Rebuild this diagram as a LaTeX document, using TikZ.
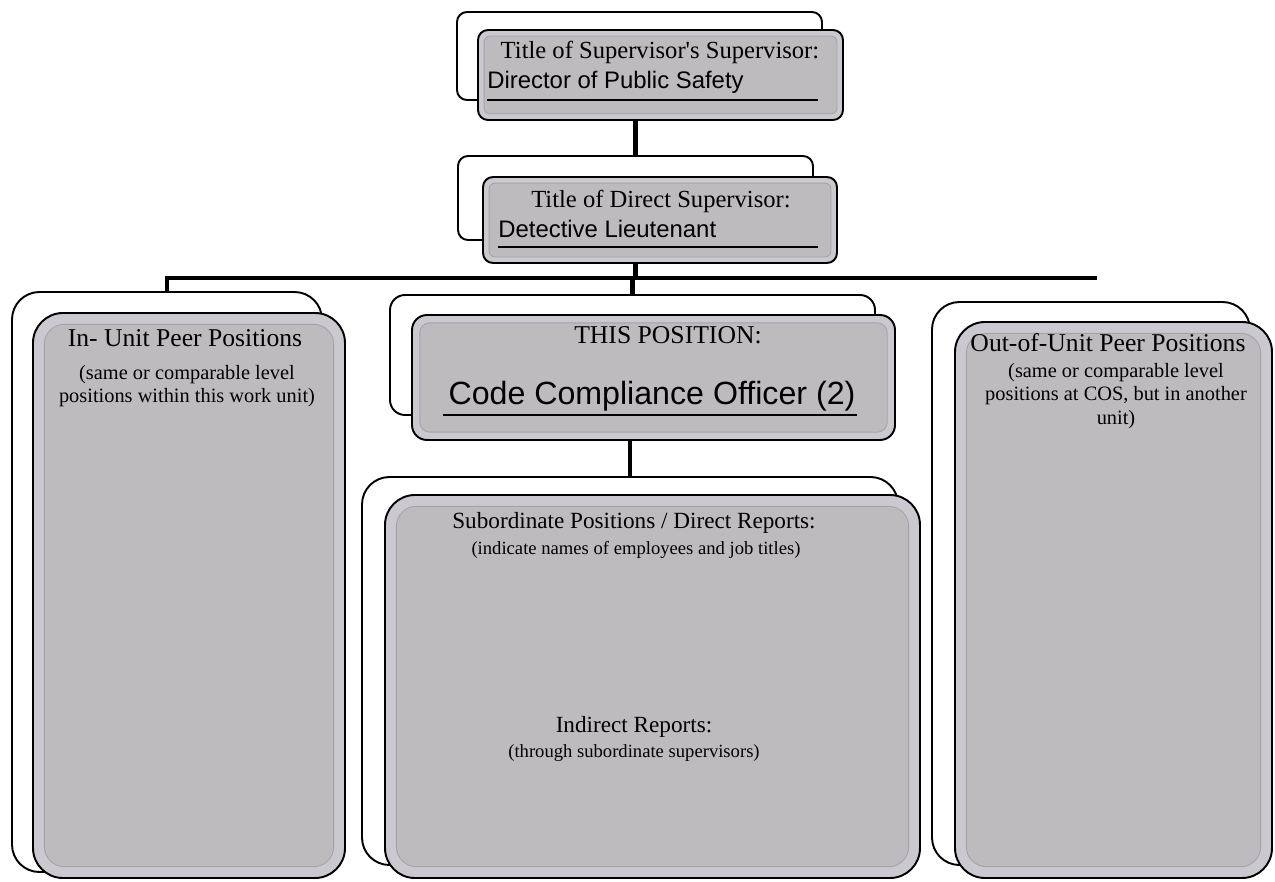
\documentclass[tikz,border=0pt]{standalone}
\usepackage{fontspec}
\setmainfont{Liberation Serif}[Ligatures=TeXOff]
\newfontfamily\arialfont{Liberation Sans}
\usetikzlibrary{fit,positioning}

\definecolor{boxgray}{RGB}{189,187,190}
\definecolor{ringgray}{RGB}{203,201,207}
\definecolor{bevelgray}{RGB}{165,163,167}

\tikzset{
  backframe/.style={draw, line width=1.1pt, fill=white, rounded corners=#1, inner sep=0pt},
  backframe/.default=0.55cm,
  frontbox/.style={draw, line width=1.1pt, fill=ringgray, rounded corners=#1, inner sep=0pt},
  frontbox/.default=0.6cm,
  bevel/.style={draw=bevelgray, line width=0.5pt, fill=boxgray, rounded corners=#1},
  bevel/.default=0.4cm,
  link/.style={line width=2.3pt, line cap=rect},
  fieldline/.style={line width=0.9pt},
  headtext/.style={font=\fontsize{14}{16}\selectfont, inner sep=0pt},
  peertext/.style={font=\fontsize{14.6}{16}\selectfont, inner sep=0pt},
  subtext/.style={font=\fontsize{13.2}{15}\selectfont, inner sep=0pt},
  nametext/.style={font=\arialfont\fontsize{13.6}{15}\selectfont, inner sep=0pt, anchor=west},
  smalltext/.style={font=\fontsize{11.6}{13.4}\selectfont, align=center, inner sep=0pt},
  notetext/.style={font=\fontsize{10.6}{12}\selectfont, align=center, inner sep=0pt}
}

\begin{document}
\begin{tikzpicture}[x=0.02cm, y=-0.02cm]
\useasboundingbox (0,0) rectangle (1275,882);

% supervisor's supervisor
\node[backframe=0.2cm, fit={(457,12) (822,100)}] (dssback) {};
\node[frontbox=0.2cm, fit={(478,30) (843,120)}] (dss) {};
\draw[bevel=0.12cm] ([xshift=4pt,yshift=4pt]dss.south west) rectangle ([xshift=-4pt,yshift=-4pt]dss.north east);
\node[headtext] (dsstitle) at (660,52) {Title of Supervisor's Supervisor:};
\node[nametext] (dssname) at (487,82) {Director of Public Safety};
\draw[fieldline] (487,100) -- (818,100);

% direct supervisor
\node[backframe=0.2cm, fit={(458,156) (813,240)}] (dsback) {};
\node[frontbox=0.2cm, fit={(483,177) (837,263)}] (ds) {};
\draw[bevel=0.12cm] ([xshift=4pt,yshift=4pt]ds.south west) rectangle ([xshift=-4pt,yshift=-4pt]ds.north east);
\node[headtext] (dstitle) at (661,201) {Title of Direct Supervisor:};
\node[nametext] (dsname) at (498,229) {Detective Lieutenant};
\draw[fieldline] (498,247) -- (818,247);

% in-unit peers
\node[backframe, fit={(12,292) (322,872)}] (inback) {};
\node[frontbox, fit={(33,313) (345,878)}] (inpeer) {};
\draw[bevel] ([xshift=7pt,yshift=7pt]inpeer.south west) rectangle ([xshift=-7pt,yshift=-7pt]inpeer.north east);
\node[peertext] (intitle) at (185,338) {In- Unit Peer Positions};
\node[smalltext] (innote) at (187,386) {(same or comparable level\\positions within this work unit)};

% this position
\node[backframe=0.3cm, fit={(390,295) (875,415)}] (thisback) {};
\node[frontbox=0.3cm, fit={(412,315) (895,440)}] (this) {};
\draw[bevel=0.2cm] ([xshift=5pt,yshift=5pt]this.south west) rectangle ([xshift=-5pt,yshift=-5pt]this.north east);
\node[peertext] (thistitle) at (668,335) {THIS POSITION:};
\node[font=\arialfont\fontsize{18.3}{20}\selectfont, inner sep=0pt] (thisname) at (652,396) {Code Compliance Officer (2)};
\draw[fieldline] (443,415) -- (857,415);

% subordinates
\node[backframe, fit={(362,477) (898,865)}] (subback) {};
\node[frontbox, fit={(385,495) (920,878)}] (sub) {};
\draw[bevel] ([xshift=7pt,yshift=7pt]sub.south west) rectangle ([xshift=-7pt,yshift=-7pt]sub.north east);
\node[subtext] (subtitle) at (634,523) {Subordinate Positions / Direct Reports:};
\node[notetext] (subnote) at (636,550) {(indicate names of employees and job titles)};
\node[subtext] (indtitle) at (634,727) {Indirect Reports:};
\node[notetext] (indnote) at (634,753) {(through subordinate supervisors)};

% out-of-unit peers
\node[backframe, fit={(932,302) (1250,865)}] (outback) {};
\node[frontbox, fit={(955,322) (1272,878)}] (outpeer) {};
\draw[bevel] ([xshift=7pt,yshift=7pt]outpeer.south west) rectangle ([xshift=-7pt,yshift=-7pt]outpeer.north east);
\node[peertext] (outtitle) at (1108,343) {Out-of-Unit Peer Positions};
\node[smalltext] (outnote) at (1116,396) {(same or comparable level\\positions at COS, but in another\\unit)};

% reporting lines
\coordinate (busL) at (168,278);
\coordinate (busR) at (1095,278);
\draw[link] (dss.south -| dsback.north) -- (dsback.north);
\draw[link] (ds.south -| dsback.north) -- (dsback.north |- busL);
\draw[link] (busL) -- (busR);
\draw[link] (inback.north |- busL) -- (inback.north);
\draw[link] (thisback.north |- busL) -- (thisback.north);
\draw[link] (this.south -| subback.north) -- (subback.north);
\end{tikzpicture}
\end{document}
